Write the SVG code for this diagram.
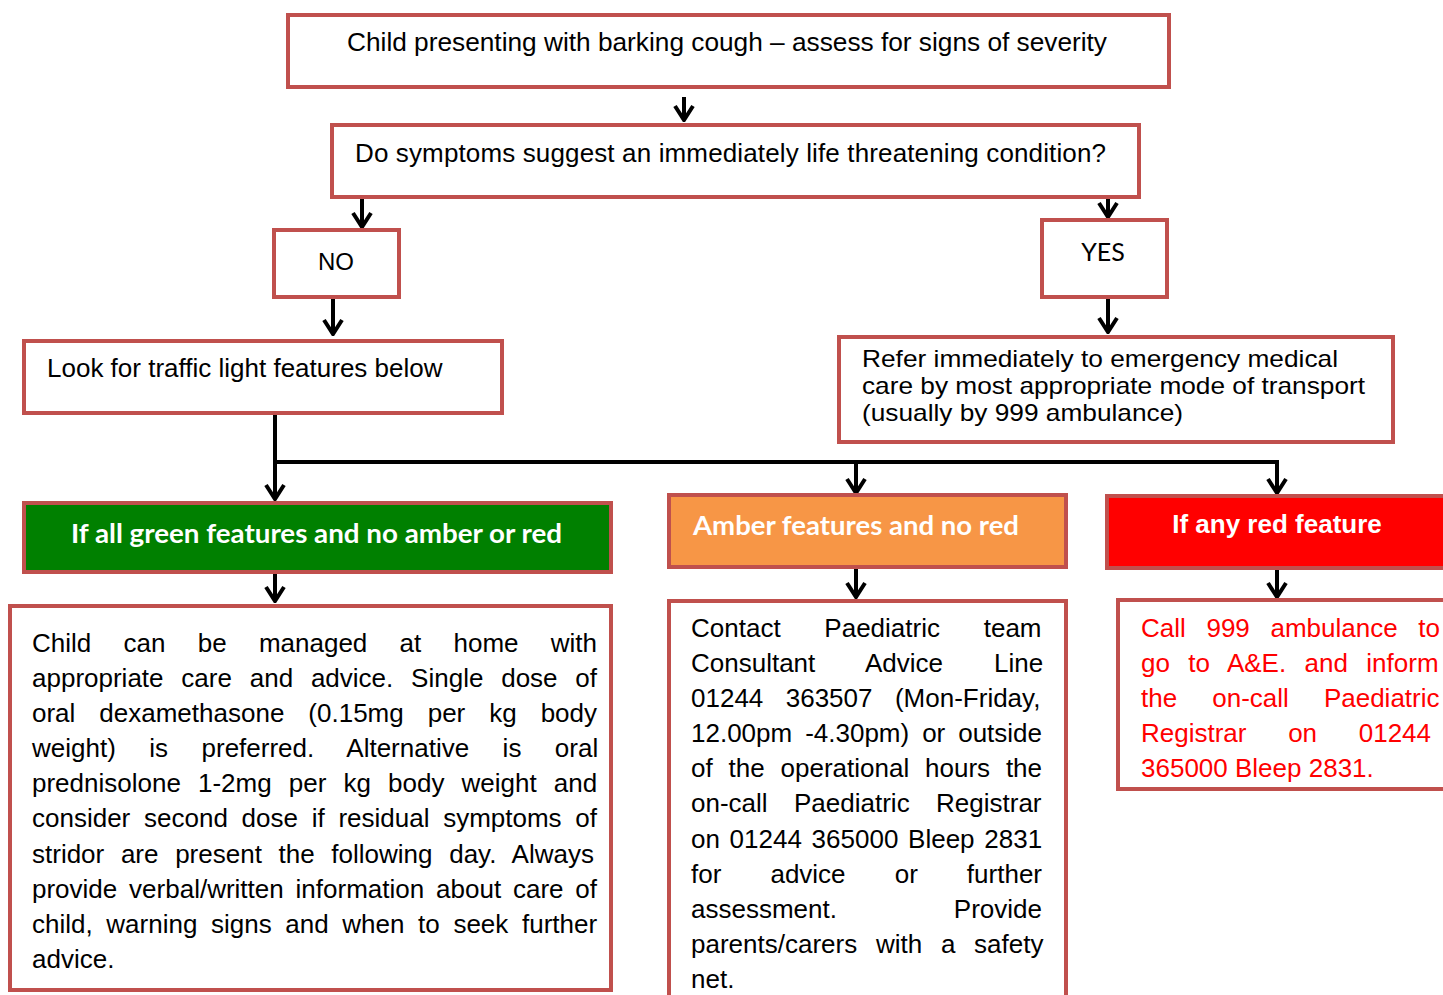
<svg xmlns="http://www.w3.org/2000/svg" width="1443" height="995" viewBox="0 0 1443 995">
<style>
.box{fill:#fff;stroke:#C0504D;stroke-width:4}
.t{font-family:"Liberation Sans",Arial,sans-serif;font-size:26px;fill:#000}
.h{font-family:"Liberation Sans",Arial,sans-serif;font-size:26px;font-weight:bold;fill:#fff}
.hc{font-family:Lato,"Open Sans",sans-serif;font-size:26px;font-weight:bold;fill:#fff}
.c{stroke:#000;stroke-width:4;fill:none}
.rt{fill:#FF0000}
</style>
<defs>
<marker id="a" markerUnits="userSpaceOnUse" viewBox="-16 -12 18 24" markerWidth="18" markerHeight="24" refX="0" refY="0" orient="auto">
<path d="M-14,-9 L0,0 L-14,9" fill="none" stroke="#000" stroke-width="4"/>
</marker>
</defs>

<g id="connectors">
<path class="c" d="M684,97 V120" marker-end="url(#a)"/>
<path class="c" d="M362,198 V227" marker-end="url(#a)"/>
<path class="c" d="M1108,198 V217" marker-end="url(#a)"/>
<path class="c" d="M333,298 V334" marker-end="url(#a)"/>
<path class="c" d="M1108,298 V332" marker-end="url(#a)"/>
<path class="c" d="M275,414 V499" marker-end="url(#a)"/>
<path class="c" d="M275,462 H1277 V493" marker-end="url(#a)"/>
<path class="c" d="M856,462 V493" marker-end="url(#a)"/>
<path class="c" d="M275,573 V601" marker-end="url(#a)"/>
<path class="c" d="M856,568 V597" marker-end="url(#a)"/>
<path class="c" d="M1277,569 V597" marker-end="url(#a)"/>
</g>

<g id="start">
<rect class="box" x="288" y="15" width="881" height="72"/>
<text class="t" x="347" y="51" textLength="760" lengthAdjust="spacingAndGlyphs">Child presenting with barking cough – assess for signs of severity</text>
</g>

<g id="question">
<rect class="box" x="332" y="125" width="807" height="72"/>
<text class="t" x="355" y="162" textLength="751" lengthAdjust="spacing">Do symptoms suggest an immediately life threatening condition?</text>
</g>

<g id="no">
<rect class="box" x="274" y="230" width="125" height="67"/>
<text class="t" x="336" y="270" text-anchor="middle" style="font-size:24px">NO</text>
</g>

<g id="yes">
<rect class="box" x="1042" y="220" width="125" height="77"/>
<text class="t" x="1103" y="261" text-anchor="middle" style="font-family:Lato,'Open Sans',sans-serif;font-size:25px">YES</text>
</g>

<g id="look">
<rect class="box" x="24" y="341" width="478" height="72"/>
<text class="t" x="47" y="377">Look for traffic light features below</text>
</g>

<g id="refer">
<rect class="box" x="839" y="337" width="554" height="105"/>
<text class="t" x="862" y="367" style="font-size:24px" textLength="476" lengthAdjust="spacingAndGlyphs">Refer immediately to emergency medical</text>
<text class="t" x="862" y="394" style="font-size:24px" textLength="503" lengthAdjust="spacingAndGlyphs">care by most appropriate mode of transport</text>
<text class="t" x="862" y="421" style="font-size:24px" textLength="321" lengthAdjust="spacingAndGlyphs">(usually by 999 ambulance)</text>
</g>

<g id="green-header">
<rect class="box" x="24" y="503" width="587" height="69" style="fill:#008000"/>
<text class="hc" x="71" y="543" textLength="491" lengthAdjust="spacingAndGlyphs">If all green features and no amber or red</text>
</g>

<g id="green-body">
<rect class="box" x="10" y="606" width="601" height="384"/>
<text class="t" x="32" y="652" word-spacing="25.04">Child can be managed at home with</text>
<text class="t" x="32" y="687" word-spacing="10.58">appropriate care and advice. Single dose of</text>
<text class="t" x="32" y="722" word-spacing="16.75">oral dexamethasone (0.15mg per kg body</text>
<text class="t" x="32" y="757" word-spacing="26.25">weight) is preferred. Alternative is oral</text>
<text class="t" x="32" y="792" word-spacing="9.87">prednisolone 1-2mg per kg body weight and</text>
<text class="t" x="32" y="827" word-spacing="6.5">consider second dose if residual symptoms of</text>
<text class="t" x="32" y="863" word-spacing="9.44">stridor are present the following day. Always</text>
<text class="t" x="32" y="898" word-spacing="4.62">provide verbal/written information about care of</text>
<text class="t" x="32" y="933" word-spacing="6.4">child, warning signs and when to seek further</text>
<text class="t" x="32" y="968">advice.</text>
</g>

<g id="amber-header">
<rect class="box" x="669" y="495" width="397" height="72" style="fill:#F79646"/>
<text class="hc" x="693" y="535" textLength="326" lengthAdjust="spacingAndGlyphs">Amber features and no red</text>
</g>

<g id="amber-body">
<rect class="box" x="669" y="601" width="397" height="400"/>
<text class="t" x="691" y="637" word-spacing="36.52">Contact Paediatric team</text>
<text class="t" x="691" y="672" word-spacing="43.85">Consultant Advice Line</text>
<text class="t" x="691" y="707" word-spacing="15.22">01244 363507 (Mon-Friday,</text>
<text class="t" x="691" y="742" word-spacing="5.73">12.00pm -4.30pm) or outside</text>
<text class="t" x="691" y="777" word-spacing="8.62">of the operational hours the</text>
<text class="t" x="691" y="812" word-spacing="19.2">on-call Paediatric Registrar</text>
<text class="t" x="691" y="848" word-spacing="2.47">on 01244 365000 Bleep 2831</text>
<text class="t" x="691" y="883" word-spacing="41.86">for advice or further</text>
<text class="t" x="691" y="918" word-spacing="109.7">assessment. Provide</text>
<text class="t" x="691" y="953" word-spacing="11.52">parents/carers with a safety</text>
<text class="t" x="691" y="988">net.</text>
</g>

<g id="red-header">
<rect class="box" x="1107" y="496" width="345" height="72" style="fill:#FF0000"/>
<text class="h" x="1277" y="533" text-anchor="middle">If any red feature</text>
</g>

<g id="red-body">
<rect class="box" x="1118" y="600" width="335" height="189"/>
<text class="t rt" x="1141" y="637" word-spacing="13.44">Call 999 ambulance to</text>
<text class="t rt" x="1141" y="672" word-spacing="11.16">go to A&amp;E. and inform</text>
<text class="t rt" x="1141" y="707" word-spacing="27.86">the on-call Paediatric</text>
<text class="t rt" x="1141" y="742" word-spacing="34.45">Registrar on 01244</text>
<text class="t rt" x="1141" y="777">365000 Bleep 2831.</text>
</g>
</svg>
